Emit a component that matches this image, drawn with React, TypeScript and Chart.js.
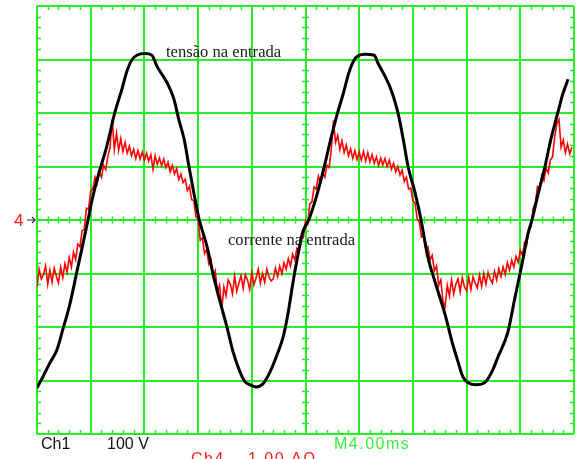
import React, { useEffect, useRef } from 'react';
import { Chart, registerables } from 'chart.js';

Chart.register(...registerables);

// Time axis: 10 divisions (M 4.00 ms/div); vertical: 8 divisions
const X_DIVS = [0, 10];
const Y_DIVS = [-4, 4];

// Ch1 – tensão na entrada (divisions)
const VOLT_T = [
  0.00, 0.10, 0.24, 0.37, 0.48, 0.61, 0.74, 0.88, 0.95, 1.02, 1.12, 1.30, 1.45, 1.58, 1.68, 1.77, 1.86, 2.01, 2.14, 2.23,
  2.42, 2.55, 2.64, 2.74, 2.83, 2.92, 3.02, 3.17, 3.28, 3.41, 3.54, 3.65, 3.78, 3.87, 3.97, 4.08, 4.21, 4.34, 4.47, 4.58,
  4.67, 4.77, 4.86, 4.95, 5.06, 5.21, 5.36, 5.47, 5.59, 5.70, 5.81, 5.90, 5.98, 6.11, 6.28, 6.35, 6.48, 6.61, 6.72, 6.82,
  6.91, 7.04, 7.15, 7.28, 7.41, 7.60, 7.73, 7.84, 7.93, 8.03, 8.18, 8.34, 8.47, 8.58, 8.77, 8.90, 9.03, 9.14, 9.22, 9.33,
  9.46, 9.57, 9.70, 9.79, 9.89,
];
const VOLT_V = [
  -3.14, -2.95, -2.67, -2.43, -2.05, -1.58, -0.98, -0.33, 0.00, 0.35, 0.76, 1.38, 2.01, 2.44, 2.80, 3.00, 3.08, 3.11, 3.08, 2.88,
  2.57, 2.26, 1.88, 1.51, 1.00, 0.51, 0.01, -0.51, -1.02, -1.53, -2.01, -2.46, -2.84, -3.02, -3.08, -3.12, -3.06, -2.84, -2.52, -2.20,
  -1.77, -1.15, -0.65, -0.22, 0.00, 0.46, 1.04, 1.51, 1.98, 2.35, 2.76, 2.98, 3.07, 3.10, 3.08, 2.93, 2.69, 2.39, 2.01, 1.51,
  1.00, 0.51, 0.01, -0.70, -1.15, -1.77, -2.28, -2.65, -2.93, -3.04, -3.08, -3.04, -2.84, -2.57, -2.09, -1.45, -0.83, -0.27, 0.01, 0.48,
  1.00, 1.51, 2.01, 2.35, 2.63,
];

// Ch4 – corrente na entrada, one sample every 0.04 div (250 samples)
const CURR_STEP = 0.04;
const CURR_V = [
  -1.25, -0.92, -1.10, -1.02, -0.86, -1.20, -0.94, -1.16, -0.90, -1.05,
  -1.18, -0.88, -1.08, -0.82, -0.98, -0.70, -0.88, -0.60, -0.74, -0.45,
  -0.50, -0.20, -0.18, 0.22, 0.20, 0.55, 0.58, 0.80, 0.68, 0.90,
  0.80, 1.02, 0.94, 1.20, 1.35, 1.88, 1.32, 1.62, 1.30, 1.52,
  1.28, 1.45, 1.25, 1.38, 1.20, 1.32, 1.15, 1.30, 1.14, 1.27,
  1.12, 1.25, 1.10, 1.22, 0.95, 1.20, 1.04, 1.16, 1.02, 1.14,
  0.98, 1.08, 0.90, 1.02, 0.86, 0.96, 0.76, 0.86, 0.70, 0.76,
  0.55, 0.63, 0.38, 0.36, 0.06, 0.02, -0.38, -0.34, -0.63, -0.55,
  -0.82, -0.74, -1.05, -0.95, -1.35, -1.22, -1.68, -1.25, -1.42, -1.12,
  -1.20, -1.38, -1.05, -1.33, -1.18, -1.04, -1.28, -1.02, -1.12, -1.30,
  -0.98, -1.21, -1.08, -0.92, -1.18, -1.00, -1.16, -0.92, -1.06, -1.14,
  -1.10, -0.90, -1.06, -0.86, -1.00, -0.80, -0.92, -0.72, -0.86, -0.64,
  -0.74, -0.53, -0.58, -0.32, -0.33, -0.02, -0.08, 0.30, 0.34, 0.62,
  0.58, 0.82, 0.70, 0.88, 0.80, 1.02, 0.98, 1.32, 1.86, 1.45,
  1.58, 1.32, 1.48, 1.26, 1.40, 1.20, 1.33, 1.15, 1.30, 1.13,
  1.27, 1.12, 1.28, 1.10, 1.26, 1.09, 1.22, 1.06, 1.18, 1.02,
  1.16, 1.03, 1.15, 1.00, 1.12, 0.95, 1.06, 0.90, 1.00, 0.84,
  0.93, 0.72, 0.80, 0.58, 0.60, 0.36, 0.32, 0.02, -0.04, -0.32,
  -0.30, -0.56, -0.50, -0.74, -0.66, -0.95, -0.86, -1.22, -1.12, -1.52,
  -1.62, -1.22, -1.42, -1.12, -1.38, -1.20, -1.10, -1.34, -1.08, -1.25,
  -1.32, -1.07, -1.30, -1.06, -1.18, -1.27, -1.03, -1.24, -1.00, -1.20,
  -0.98, -1.10, -1.18, -0.96, -1.12, -0.91, -1.06, -0.88, -1.02, -0.80,
  -0.94, -0.75, -0.88, -0.68, -0.79, -0.57, -0.66, -0.42, -0.46, -0.14,
  -0.12, 0.22, 0.32, 0.62, 0.57, 0.83, 0.74, 0.97, 0.88, 1.12,
  1.18, 1.55, 1.80, 1.88, 1.36, 1.50, 1.26, 1.42, 1.24, 1.36,
];

const GRID = '#22f022';

const voltData = VOLT_T.map((t, i) => ({ x: t, y: VOLT_V[i] }));
const currData = CURR_V.map((v, i) => ({ x: i * CURR_STEP, y: v }));

const scopePlugin = {
  id: 'scope',
  beforeDatasetsDraw(chart: any) {
    const { ctx, chartArea: a, scales } = chart;
    const xs = scales.x;
    const ys = scales.y;
    ctx.save();
    ctx.strokeStyle = GRID;
    ctx.lineWidth = 1.5;
    const cx = xs.getPixelForValue(5);
    const cy = ys.getPixelForValue(0);
    ctx.beginPath();
    for (let k = 1; k < 50; k++) {
      if (k % 5 === 0) continue;
      const px = Math.round(xs.getPixelForValue(k / 5)) + 0.5;
      ctx.moveTo(px, a.top); ctx.lineTo(px, a.top + 4);
      ctx.moveTo(px, a.bottom); ctx.lineTo(px, a.bottom - 4);
      ctx.moveTo(px, cy - 3.5); ctx.lineTo(px, cy + 3.5);
    }
    for (let k = -19; k < 20; k++) {
      if (k % 5 === 0) continue;
      const py = Math.round(ys.getPixelForValue(k / 5)) + 0.5;
      ctx.moveTo(a.left, py); ctx.lineTo(a.left + 4, py);
      ctx.moveTo(a.right, py); ctx.lineTo(a.right - 4, py);
      ctx.moveTo(cx - 3.5, py); ctx.lineTo(cx + 3.5, py);
    }
    ctx.stroke();
    ctx.restore();
  },
  afterDatasetsDraw(chart: any) {
    const { ctx, scales } = chart;
    const cy = scales.y.getPixelForValue(0);
    ctx.save();
    ctx.textBaseline = 'alphabetic';
    ctx.font = '16.6px "Liberation Serif", "Times New Roman", serif';
    ctx.fillStyle = '#1a1a1a';
    ctx.fillText('tensão na entrada', 166, 57);
    ctx.fillText('corrente na entrada', 228, 245);

    ctx.font = '16px "Liberation Sans", Arial, sans-serif';
    ctx.fillStyle = '#111';
    ctx.fillText('Ch1', 41, 449);
    ctx.fillText('100 V', 107, 449);
    (ctx as any).letterSpacing = '1.5px';
    ctx.fillStyle = '#3cee3c';
    ctx.fillText('M4.00ms', 334, 449);
    ctx.fillStyle = '#ff1a1a';
    ctx.fillText('Ch4', 191, 464);
    ctx.fillText('1.00 AΩ', 248, 464);
    (ctx as any).letterSpacing = '0px';

    ctx.font = '17px "Liberation Sans", Arial, sans-serif';
    ctx.fillStyle = '#ff1a1a';
    ctx.textBaseline = 'middle';
    ctx.fillText('4', 14, cy + 1);
    ctx.strokeStyle = '#333';
    ctx.lineWidth = 1.2;
    ctx.beginPath();
    ctx.moveTo(27, cy); ctx.lineTo(35, cy);
    ctx.moveTo(32, cy - 3); ctx.lineTo(35, cy); ctx.lineTo(32, cy + 3);
    ctx.stroke();
    ctx.restore();
  },
};

export default function App() {
  const ref = useRef<HTMLCanvasElement>(null);
  useEffect(() => {
    const chart = new Chart(ref.current as HTMLCanvasElement, {
      type: 'scatter',
      data: {
        datasets: [
          {
            label: 'tensão na entrada',
            data: voltData,
            borderColor: '#000000',
            backgroundColor: '#000000',
            borderWidth: 3,
            showLine: true,
            pointRadius: 0,
            cubicInterpolationMode: 'monotone',
            order: 0,
          },
          {
            label: 'corrente na entrada',
            data: currData,
            borderColor: '#ff0000',
            backgroundColor: '#ff0000',
            borderWidth: 1.6,
            showLine: true,
            pointRadius: 0,
            tension: 0,
            order: 1,
          },
        ],
      },
      options: {
        animation: false,
        responsive: false,
        devicePixelRatio: 1,
        layout: { padding: { left: 37, right: 2, top: 6, bottom: 25 } },
        plugins: { legend: { display: false }, tooltip: { enabled: false } },
        scales: {
          x: {
            type: 'linear',
            min: X_DIVS[0],
            max: X_DIVS[1],
            ticks: { display: false, stepSize: 1 },
            grid: { color: GRID, lineWidth: 2, drawTicks: false },
            border: { display: false },
          },
          y: {
            type: 'linear',
            min: Y_DIVS[0],
            max: Y_DIVS[1],
            ticks: { display: false, stepSize: 1 },
            grid: { color: GRID, lineWidth: 2, drawTicks: false },
            border: { display: false },
          },
        },
      },
      plugins: [scopePlugin],
    });
    return () => chart.destroy();
  }, []);
  return (
    <div style={{ position: 'absolute', left: 0, top: 0, width: 576, height: 459, background: '#ffffff' }}>
      <canvas ref={ref} width={576} height={459} style={{ display: 'block' }} />
    </div>
  );
}
